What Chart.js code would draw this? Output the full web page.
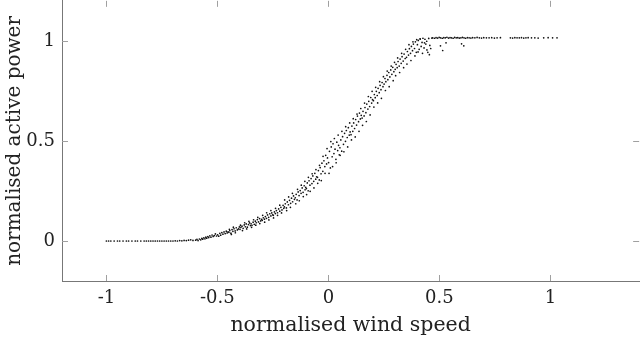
<!DOCTYPE html>
<html>
<head>
<meta charset="utf-8">
<script src="https://cdn.jsdelivr.net/npm/chart.js@4/dist/chart.umd.min.js"></script>
<style>
  html, body { margin: 0; padding: 0; background: #fff; }
  #cadre { width: 640px; height: 341px; }
</style>
</head>
<body>
<div id="cadre"><canvas id="graphique" width="640" height="341"></canvas></div>
<script>
/********************/
/* Données globales */
/********************/
// Graduations des axes
var ticksX = [-1, -0.5, 0, 0.5, 1];
var ticksY = [0, 0.5, 1];

// Zone basse (vent faible, puissance nulle)
var basX = [-1.00, -0.99, -0.98, -0.965, -0.95, -0.94, -0.925, -0.91, -0.90, -0.885, -0.87, -0.86, -0.845, -0.83, -0.82, -0.81, -0.80, -0.79, -0.78, -0.77, -0.76, -0.75, -0.74, -0.73, -0.72, -0.71, -0.70, -0.69, -0.68, -0.67, -0.66, -0.65, -0.64, -0.63, -0.62, -0.61];
var basY = [0, 0, 0, 0, 0, 0, 0, 0, 0, 0, 0, 0, 0, 0, 0, 0, 0, 0, 0, 0, 0, 0, 0, 0, 0, 0, 0, 0.001, 0, 0.002, 0.001, 0.003, 0.002, 0.004, 0.006, 0.003];

// Montée de la courbe de puissance
var monteeX = [
  -0.598, -0.592, -0.587, -0.581, -0.575, -0.570, -0.566, -0.561, -0.556, -0.552,
  -0.548, -0.543, -0.539, -0.534, -0.529, -0.524, -0.519, -0.514, -0.509, -0.504,
  -0.499, -0.494, -0.489, -0.485, -0.480, -0.475, -0.470, -0.465, -0.460, -0.456, -0.452,
  -0.448, -0.444, -0.439, -0.434, -0.430, -0.425, -0.420, -0.415, -0.410, -0.405, -0.401,
  -0.398, -0.394, -0.389, -0.384, -0.379, -0.374, -0.370, -0.365, -0.360, -0.355, -0.351,
  -0.348, -0.344, -0.339, -0.334, -0.329, -0.325, -0.320, -0.315, -0.310, -0.305, -0.301,
  -0.298, -0.293, -0.288, -0.284, -0.279, -0.274, -0.269, -0.264, -0.259, -0.255, -0.251,
  -0.248, -0.243, -0.239, -0.234, -0.229, -0.224, -0.219, -0.214, -0.209, -0.204, -0.201,
  -0.198, -0.194, -0.189, -0.185, -0.180, -0.175, -0.170, -0.166, -0.161, -0.157, -0.153,
  -0.149, -0.145, -0.141, -0.136, -0.132, -0.127, -0.123, -0.118, -0.114, -0.109, -0.105, -0.102,
  -0.099, -0.095, -0.091, -0.087, -0.083, -0.078, -0.074, -0.070, -0.066, -0.061, -0.057, -0.053,
  -0.049, -0.045, -0.041, -0.037, -0.033, -0.029, -0.025, -0.020, -0.016, -0.012, -0.008, -0.004,
  0.001, 0.005, 0.009, 0.013, 0.017, 0.021, 0.025, 0.030, 0.034, 0.038, 0.042, 0.046, 0.049,
  0.052, 0.056, 0.060, 0.064, 0.068, 0.073, 0.077, 0.081, 0.085, 0.090, 0.094, 0.098,
  0.102, 0.106, 0.110, 0.114, 0.118, 0.123, 0.127, 0.131, 0.136, 0.140, 0.144, 0.148,
  0.152, 0.156, 0.161, 0.165, 0.169, 0.173, 0.178, 0.182, 0.186, 0.191, 0.195, 0.199,
  0.203, 0.207, 0.211, 0.216, 0.220, 0.224, 0.229, 0.233, 0.237, 0.242, 0.246,
  0.251, 0.255, 0.259, 0.264, 0.268, 0.272, 0.277, 0.281, 0.286, 0.290, 0.295,
  0.301, 0.305, 0.310, 0.314, 0.319, 0.323, 0.328, 0.332, 0.337, 0.341, 0.346,
  0.352, 0.356, 0.361, 0.365, 0.370, 0.374, 0.379, 0.383, 0.388, 0.392, 0.396,
  0.401, 0.405, 0.409, 0.413, 0.418, 0.422, 0.426, 0.431, 0.435, 0.439, 0.443, 0.448, 0.452, 0.457, 0.461, 0.466
];
var monteeY = [
  0.004, 0.008, 0.002, 0.010, 0.006, 0.013, 0.009, 0.016, 0.011, 0.019,
  0.014, 0.022, 0.017, 0.026, 0.019, 0.030, 0.023, 0.027, 0.035, 0.025,
  0.031, 0.024, 0.038, 0.029, 0.042, 0.034, 0.045, 0.037, 0.049, 0.040, 0.046,
  0.043, 0.052, 0.039, 0.057, 0.048, 0.061, 0.050, 0.066, 0.055, 0.060, 0.070,
  0.058, 0.068, 0.074, 0.063, 0.080, 0.071, 0.085, 0.069, 0.082, 0.090, 0.077,
  0.086, 0.078, 0.094, 0.083, 0.099, 0.091, 0.107, 0.095, 0.112, 0.100, 0.108,
  0.103, 0.116, 0.109, 0.122, 0.113, 0.130, 0.118, 0.136, 0.125, 0.140, 0.131,
  0.128, 0.145, 0.137, 0.152, 0.141, 0.160, 0.149, 0.168, 0.155, 0.178, 0.163,
  0.170, 0.186, 0.165, 0.195, 0.181, 0.203, 0.188, 0.214, 0.196, 0.225, 0.208,
  0.216, 0.233, 0.205, 0.245, 0.227, 0.252, 0.238, 0.265, 0.243, 0.276, 0.256, 0.268,
  0.262, 0.290, 0.251, 0.301, 0.279, 0.312, 0.287, 0.325, 0.298, 0.338, 0.309, 0.321,
  0.318, 0.352, 0.305, 0.367, 0.336, 0.389, 0.348, 0.401, 0.372, 0.428, 0.385, 0.415,
  0.392, 0.448, 0.365, 0.470, 0.421, 0.486, 0.437, 0.459, 0.408, 0.494, 0.452, 0.478, 0.431,
  0.466, 0.505, 0.449, 0.521, 0.483, 0.538, 0.498, 0.552, 0.517, 0.566, 0.529, 0.545,
  0.531, 0.574, 0.548, 0.590, 0.562, 0.607, 0.579, 0.624, 0.596, 0.639, 0.610, 0.628,
  0.614, 0.648, 0.625, 0.667, 0.641, 0.684, 0.659, 0.698, 0.672, 0.717, 0.689, 0.706,
  0.701, 0.732, 0.716, 0.748, 0.727, 0.763, 0.741, 0.778, 0.756, 0.792, 0.771,
  0.784, 0.812, 0.796, 0.828, 0.806, 0.842, 0.820, 0.855, 0.833, 0.868, 0.846,
  0.858, 0.883, 0.866, 0.897, 0.874, 0.909, 0.888, 0.921, 0.899, 0.934, 0.912,
  0.918, 0.947, 0.929, 0.961, 0.938, 0.972, 0.951, 0.984, 0.962, 0.995, 0.943,
  0.981, 1.002, 0.958, 1.010, 0.972, 0.992, 1.013, 0.965, 1.008, 0.984, 0.998, 0.943, 1.012, 0.977, 0.962, 1.014
];

// Points plus dispersés autour de la montée
var disperseX = [
  -0.446, -0.437, -0.428, -0.419,
  -0.396, -0.387, -0.377, -0.368, -0.358,
  -0.346, -0.337, -0.327, -0.318, -0.309,
  -0.296, -0.287, -0.278, -0.268, -0.259,
  -0.247, -0.238, -0.229, -0.219, -0.211,
  -0.197, -0.188, -0.179, -0.171, -0.162,
  -0.147, -0.139, -0.131, -0.122, -0.113, -0.106,
  -0.098, -0.090, -0.082, -0.073, -0.065, -0.056,
  -0.048, -0.040, -0.032, -0.024, -0.015, -0.006,
  0.003, 0.011, 0.019, 0.027, 0.035, 0.044,
  0.053, 0.061, 0.070, 0.078, 0.087, 0.096,
  0.104, 0.112, 0.121, 0.129, 0.138, 0.146,
  0.154, 0.163, 0.171, 0.180, 0.188, 0.197,
  0.205, 0.213, 0.222, 0.231, 0.239, 0.248,
  0.257, 0.265, 0.274, 0.283, 0.292, 0.298,
  0.303, 0.312, 0.321, 0.330, 0.339, 0.348,
  0.354, 0.363, 0.372, 0.381, 0.390, 0.398,
  0.404, 0.414, 0.424, 0.433, 0.444, 0.455
];
var disperseY = [
  0.058, 0.033, 0.069, 0.041,
  0.079, 0.052, 0.091, 0.060, 0.098,
  0.068, 0.106, 0.079, 0.118, 0.087,
  0.128, 0.094, 0.141, 0.105, 0.152,
  0.115, 0.163, 0.128, 0.179, 0.140,
  0.205, 0.152, 0.220, 0.168, 0.238,
  0.186, 0.258, 0.201, 0.279, 0.222, 0.298,
  0.232, 0.318, 0.248, 0.336, 0.265, 0.357,
  0.288, 0.378, 0.302, 0.423, 0.338, 0.462,
  0.338, 0.497, 0.372, 0.512, 0.391, 0.529,
  0.428, 0.548, 0.446, 0.571, 0.470, 0.590,
  0.505, 0.611, 0.520, 0.634, 0.548, 0.662,
  0.578, 0.689, 0.597, 0.722, 0.630, 0.748,
  0.669, 0.768, 0.690, 0.796, 0.713, 0.821,
  0.752, 0.849, 0.771, 0.874, 0.801, 0.893,
  0.826, 0.915, 0.842, 0.938, 0.866, 0.958,
  0.884, 0.981, 0.902, 0.995, 0.925, 1.006,
  0.945, 1.009, 0.938, 0.990, 0.955, 0.931
];

// Palier à puissance nominale
var palierX = [0.470, 0.478, 0.485, 0.492, 0.499, 0.506, 0.513, 0.520, 0.527, 0.534, 0.541, 0.548, 0.555, 0.562, 0.569, 0.576, 0.583, 0.590, 0.597, 0.604, 0.611, 0.618, 0.626, 0.634, 0.642, 0.650, 0.660, 0.670, 0.680, 0.690, 0.700, 0.712, 0.724, 0.736, 0.748, 0.760, 0.775, 0.820, 0.830, 0.840, 0.850, 0.860, 0.870, 0.880, 0.890, 0.900, 0.915, 0.930, 0.945, 0.970, 0.990, 1.010, 1.030, 0.505, 0.515, 0.530, 0.600, 0.610];
var palierY = [1.015, 1.013, 1.016, 1.014, 1.017, 1.015, 1.013, 1.016, 1.015, 1.018, 1.014, 1.016, 1.015, 1.013, 1.017, 1.015, 1.016, 1.014, 1.015, 1.017, 1.015, 1.013, 1.016, 1.015, 1.014, 1.016, 1.015, 1.017, 1.015, 1.014, 1.016, 1.015, 1.015, 1.016, 1.014, 1.015, 1.016, 1.015, 1.014, 1.016, 1.015, 1.015, 1.016, 1.014, 1.015, 1.016, 1.015, 1.015, 1.014, 1.015, 1.016, 1.015, 1.015, 0.975, 0.952, 0.990, 0.985, 0.975];

/***********************************/
/* Constitution des données (x,y) */
/***********************************/
function combiner(tabX, tabY, donnees) {
    for (var i = 0; i < tabX.length; i++) {
        donnees.push({ x: tabX[i], y: tabY[i] });
    }
}
var donneesXY = [];
combiner(basX, basY, donneesXY);
combiner(monteeX, monteeY, donneesXY);
combiner(disperseX, disperseY, donneesXY);
combiner(palierX, palierY, donneesXY);

/**************************************************/
/* Petites graduations vers l'intérieur (4 côtés) */
/**************************************************/
var graduationsInterieures = {
    id: 'graduationsInterieures',
    afterDraw: function(chart) {
        var ctx = chart.ctx;
        var zone = chart.chartArea;
        var sx = chart.scales.x, sy = chart.scales.y;
        var longueur = 6;
        ctx.save();
        ctx.strokeStyle = '#a0a0a0';
        ctx.lineWidth = 1;
        ctx.beginPath();
        ticksX.forEach(function(v) {
            var px = Math.round(sx.getPixelForValue(v)) + 0.5;
            ctx.moveTo(px, zone.bottom); ctx.lineTo(px, zone.bottom - longueur);
            ctx.moveTo(px, zone.top); ctx.lineTo(px, zone.top + longueur);
        });
        ticksY.forEach(function(v) {
            var py = Math.round(sy.getPixelForValue(v)) + 0.5;
            ctx.moveTo(zone.left, py); ctx.lineTo(zone.left + longueur, py);
            if (v < 1) { ctx.moveTo(zone.right, py); ctx.lineTo(zone.right - longueur, py); }
        });
        ctx.stroke();
        ctx.restore();
    }
};

/**********************/
/* Création du graphe */
/**********************/
var police = 'DejaVu Serif';
var ctx = document.getElementById('graphique').getContext('2d');
var courbePuissance = new Chart(ctx, {
    type: 'scatter',
    data: {
        datasets: [{
            label: 'puissance',
            data: donneesXY,
            backgroundColor: '#111',
            borderWidth: 0,
            pointRadius: 0.85,
            pointHoverRadius: 0.85
        }]
    },
    options: {
        responsive: false,
        animation: false,
        layout: { padding: 0 },
        plugins: {
            legend: { display: false },
            tooltip: { enabled: false }
        },
        scales: {
            x: {
                type: 'linear',
                min: -1.2,
                max: 1.4,
                afterBuildTicks: function(axe) {
                    axe.ticks = ticksX.map(function(v) { return { value: v }; });
                },
                afterFit: function(axe) {
                    axe.height = 60;
                    axe.paddingLeft = 0;
                    axe.paddingRight = 0;
                },
                ticks: {
                    padding: 7,
                    color: '#222',
                    font: { family: police, size: 18 },
                    callback: function(v) { return String(v); }
                },
                grid: { display: false, drawTicks: false },
                border: { display: true, color: '#777', width: 1 },
                title: {
                    display: true,
                    text: 'normalised wind speed',
                    color: '#222',
                    font: { family: police, size: 20.5 },
                    padding: { top: 0, bottom: 3 }
                }
            },
            y: {
                type: 'linear',
                min: -0.2,
                max: 1.2,
                afterBuildTicks: function(axe) {
                    axe.ticks = ticksY.map(function(v) { return { value: v }; });
                },
                afterFit: function(axe) {
                    axe.width = 62;
                    axe.paddingTop = 0;
                    axe.paddingBottom = 0;
                },
                ticks: {
                    padding: 7,
                    color: '#222',
                    font: { family: police, size: 18 },
                    callback: function(v) { return String(v); }
                },
                grid: { display: false, drawTicks: false },
                border: { display: true, color: '#777', width: 1 },
                title: {
                    display: true,
                    text: 'normalised active power',
                    color: '#222',
                    font: { family: police, size: 20 },
                    padding: { top: 3, bottom: 0 }
                }
            }
        }//Fin scales
    },//Fin options
    plugins: [graduationsInterieures]
});//Fin new Chart
</script>
</body>
</html>
